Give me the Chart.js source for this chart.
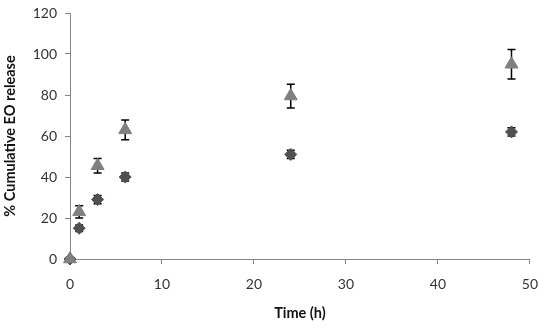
<!DOCTYPE html>
<html>
<head>
<meta charset="utf-8">
<script src="https://cdn.jsdelivr.net/npm/chart.js@4/dist/chart.umd.min.js"></script>
<style>
  html, body { margin: 0; padding: 0; background: #fff; }
  #wrap { width: 550px; height: 328px; }
</style>
</head>
<body>
<div id="wrap"><canvas id="releaseChart"></canvas></div>
<script>
const times = [0, 1, 3, 6, 24, 48];
const seriesA = [0, 23, 45.5, 63, 79.5, 95];
const seriesAErr = [0, 3, 3.5, 4.8, 5.8, 7.2];
const seriesB = [0, 15, 29, 40, 51, 62];
const seriesBErr = [0, 1.6, 2, 2, 2, 2];
const xTicks = [0, 10, 20, 30, 40, 50];
const yTicks = [0, 20, 40, 60, 80, 100, 120];

const toPoints = (vals, errs) => vals.map((v, i) => ({ x: times[i], y: v, err: errs[i] }));

const errorBars = {
  id: 'errorBars',
  beforeDatasetsDraw(chart) {
    const { ctx, scales: { x, y } } = chart;
    ctx.save();
    ctx.strokeStyle = '#000';
    ctx.lineWidth = 1.5;
    chart.data.datasets.forEach((ds) => {
      ds.data.forEach((p) => {
        if (!p.err) return;
        const px = x.getPixelForValue(p.x);
        const top = y.getPixelForValue(p.y + p.err);
        const bot = y.getPixelForValue(p.y - p.err);
        ctx.beginPath();
        ctx.moveTo(px, top); ctx.lineTo(px, bot);
        ctx.moveTo(px - 4, top); ctx.lineTo(px + 4, top);
        ctx.moveTo(px - 4, bot); ctx.lineTo(px + 4, bot);
        ctx.stroke();
      });
    });
    ctx.restore();
  }
};

const tickFont = { family: 'Lato', size: 14 };
const titleFont = { family: 'Lato', size: 14.5, weight: 'bold' };

new Chart(document.getElementById('releaseChart'), {
  type: 'scatter',
  data: {
    datasets: [
      {
        label: 'A',
        data: toPoints(seriesA, seriesAErr),
        pointStyle: 'triangle',
        pointRadius: 7.5,
        pointHoverRadius: 7.5,
        backgroundColor: '#808080',
        borderColor: '#808080',
        borderWidth: 1,
        clip: false
      },
      {
        label: 'B',
        data: toPoints(seriesB, seriesBErr),
        pointStyle: 'rectRot',
        pointRadius: 6,
        pointHoverRadius: 6,
        backgroundColor: '#505050',
        borderColor: '#505050',
        borderWidth: 1,
        clip: false
      }
    ]
  },
  options: {
    responsive: true,
    maintainAspectRatio: false,
    animation: false,
    layout: { padding: { top: 13, right: 12, left: 0, bottom: 0 } },
    plugins: {
      legend: { display: false },
      tooltip: { enabled: false }
    },
    scales: {
      x: {
        type: 'linear',
        min: 0,
        max: 50,
        afterFit: (s) => { s.height = 69; },
        afterBuildTicks: (s) => { s.ticks = xTicks.map((v) => ({ value: v })); },
        border: { display: true, color: '#868686', width: 1 },
        grid: { display: true, drawOnChartArea: false, drawTicks: true, tickLength: 5, color: '#868686' },
        ticks: { color: '#333', font: tickFont, padding: 12 },
        title: { display: true, text: 'Time (h)', color: '#111', font: titleFont, padding: { top: 0, bottom: 6 } }
      },
      y: {
        type: 'linear',
        min: 0,
        max: 120,
        afterFit: (s) => { s.width = 70; s.paddingTop = 0; },
        afterBuildTicks: (s) => { s.ticks = yTicks.map((v) => ({ value: v })); },
        border: { display: true, color: '#868686', width: 1 },
        grid: { display: true, drawOnChartArea: false, drawTicks: true, tickLength: 5, color: '#868686' },
        ticks: { color: '#333', font: tickFont, padding: 8 },
        title: { display: true, text: '% Cumulative EO release', color: '#111', font: titleFont, padding: { top: 2, bottom: 0 } }
      }
    }
  },
  plugins: [errorBars]
});
</script>
</body>
</html>
